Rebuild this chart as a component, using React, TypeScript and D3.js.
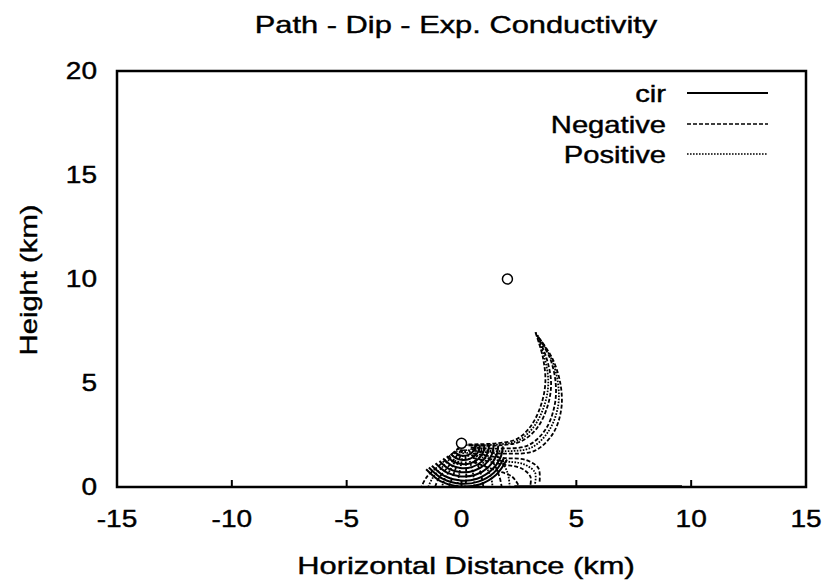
import React from "react";
import * as d3 from "d3";

type Pt = [number, number];

const title = "Path - Dip - Exp. Conductivity";
const xLabel = "Horizontal Distance (km)";
const yLabel = "Height (km)";
const xTicks = [-15, -10, -5, 0, 5, 10, 15];
const yTicks = [0, 5, 10, 15, 20];
const legendLabels = ["cir", "Negative", "Positive"];

// point markers (km)
const markers: Pt[] = [
  [0, 2.1],
  [2, 10],
];

// "cir" solid paths (concentric arcs around the source, ground trace)
const cirPaths: Pt[][] = [
  [[-0.31, 1.71], [-0.15, 1.57], [0.06, 1.5], [0.27, 1.53], [0.45, 1.65], [0.57, 1.83], [0.6, 2.0]],
  [[-0.47, 1.6], [-0.25, 1.39], [0.04, 1.3], [0.34, 1.34], [0.59, 1.51], [0.76, 1.76], [0.8, 2.0]],
  [[-0.64, 1.48], [-0.35, 1.22], [0.02, 1.1], [0.41, 1.15], [0.74, 1.36], [0.95, 1.69], [1.0, 2.0]],
  [[-0.8, 1.37], [-0.45, 1.05], [0.0, 0.9], [0.48, 0.97], [0.88, 1.22], [1.13, 1.62], [1.2, 2.0]],
  [[-0.96, 1.25], [-0.55, 0.87], [-0.01, 0.71], [0.54, 0.78], [1.02, 1.08], [1.32, 1.56], [1.4, 1.98]],
  [[-1.13, 1.14], [-0.65, 0.7], [-0.03, 0.51], [0.61, 0.59], [1.16, 0.94], [1.51, 1.49], [1.6, 1.98]],
  [[-1.29, 1.02], [-0.75, 0.53], [-0.05, 0.31], [0.68, 0.4], [1.3, 0.8], [1.7, 1.42], [1.8, 1.95]],
  [[-1.42, 0.94], [-0.83, 0.4], [-0.06, 0.16], [0.73, 0.26], [1.41, 0.69], [1.84, 1.37]],
  [[-1.54, 0.85], [-0.9, 0.27], [-0.07, 0.03], [0.78, 0.12], [1.51, 0.59], [1.98, 1.32]],
  [[2.3, 0.04], [9.6, 0.04]],
];

// "Negative" dashed paths
const negativePaths: Pt[][] = [
  // bundle rising to the tip
  [[0.3, 2.05], [1.5, 2.1], [2.4, 2.3], [3.0, 2.9], [3.45, 3.9], [3.65, 5.0], [3.55, 6.2], [3.2, 7.5]],
  [[0.3, 2.0], [1.6, 2.0], [2.6, 2.2], [3.3, 2.85], [3.75, 3.9], [3.9, 5.0], [3.7, 6.2], [3.25, 7.4]],
  [[0.4, 1.9], [1.8, 1.85], [2.9, 2.0], [3.65, 2.75], [4.05, 3.9], [4.1, 5.0], [3.85, 6.2], [3.3, 7.3]],
  [[0.5, 1.75], [2.0, 1.6], [3.2, 1.75], [4.0, 2.6], [4.35, 3.8], [4.3, 5.0], [3.95, 6.2], [3.35, 7.2]],
  // loops down to the ground on the right
  [[0.5, 1.6], [1.8, 1.4], [2.8, 1.3], [3.35, 0.9], [3.4, 0.25]],
  [[0.5, 1.4], [1.7, 1.1], [2.6, 0.9], [3.0, 0.5], [3.0, 0.1]],
  [[0.5, 1.2], [1.5, 0.8], [2.2, 0.5], [2.5, 0.05]],
  // fan from the source to the ground
  [[-0.1, 1.9], [-0.9, 1.1], [-1.5, 0.5], [-1.75, 0]],
  [[0.0, 1.8], [-0.6, 0.95], [-1.0, 0.4], [-1.15, 0]],
  [[0.05, 1.8], [-0.25, 0.9], [-0.45, 0.3], [-0.55, 0]],
  [[0.15, 1.8], [0.2, 0.9], [0.2, 0.3], [0.15, 0]],
  [[0.3, 1.8], [0.75, 0.95], [0.9, 0.35], [0.95, 0]],
  [[0.5, 1.9], [1.35, 1.2], [1.65, 0.5], [1.75, 0]],
];

// "Positive" dotted paths
const positivePaths: Pt[][] = [
  [[0.2, 2.02], [1.7, 2.05], [2.5, 2.25], [3.15, 2.9], [3.6, 3.9], [3.78, 5.0], [3.62, 6.2], [3.22, 7.45]],
  [[0.45, 1.82], [1.9, 1.72], [3.05, 1.9], [3.8, 2.7], [4.2, 3.85], [4.2, 5.0], [3.9, 6.2], [3.32, 7.25]],
  [[-0.1, 1.85], [-0.8, 1.0], [-1.25, 0.45], [-1.45, 0]],
  [[0.0, 1.8], [-0.45, 0.9], [-0.75, 0.35], [-0.85, 0]],
  [[0.1, 1.8], [-0.05, 0.9], [-0.15, 0.3], [-0.2, 0]],
  [[0.2, 1.8], [0.45, 0.9], [0.55, 0.3], [0.55, 0]],
  [[0.4, 1.85], [1.05, 1.0], [1.3, 0.4], [1.35, 0]],
  [[0.6, 1.95], [1.55, 1.5], [2.0, 0.7], [2.1, 0]],
  [[0.5, 1.5], [1.75, 1.25], [2.7, 1.1], [3.2, 0.7], [3.2, 0.15]],
];

const W = 828;
const H = 583;
const left = 117;
const right = 806;
const top = 71;
const bottom = 487;
const FONT = "'Liberation Sans', Arial, Helvetica, sans-serif";

export default function App() {
  const x = d3.scaleLinear().domain([-15, 15]).range([left, right]);
  const y = d3.scaleLinear().domain([0, 20]).range([bottom, top]);
  const line = d3
    .line<Pt>()
    .x((d) => x(d[0]))
    .y((d) => y(d[1]))
    .curve(d3.curveCatmullRom.alpha(0.5));

  const txt = (
    s: string,
    tx: number,
    ty: number,
    anchor: "start" | "middle" | "end",
    sx = 1.27,
    rot = 0
  ) => (
    <text
      key={s + tx + ty}
      transform={`translate(${tx},${ty}) rotate(${rot}) scale(${sx},1)`}
      textAnchor={anchor}
      fontFamily={FONT}
      fontSize={23}
      fill="#000"
      stroke="#000"
      strokeWidth={0.4}
    >
      {s}
    </text>
  );

  const legendY = [93, 124, 154];
  const legendDash = ["none", "4,2", "1.6,1.4"];

  return (
    <svg
      width={W}
      height={H}
      viewBox={`0 0 ${W} ${H}`}
      style={{ position: "absolute", left: 0, top: 0, background: "#fff" }}
    >
      <rect x={0} y={0} width={W} height={H} fill="#fff" />
      <defs>
        <clipPath id="plotclip">
          <rect x={left} y={top} width={right - left} height={bottom - top} />
        </clipPath>
      </defs>

      {txt(title, 456, 33, "middle", 1.34)}

      <g clipPath="url(#plotclip)" fill="none" stroke="#000">
        {cirPaths.map((p, i) => (
          <path key={"c" + i} d={line(p) || ""} strokeWidth={2} />
        ))}
        {negativePaths.map((p, i) => (
          <path key={"n" + i} d={line(p) || ""} strokeWidth={1.8} strokeDasharray="4,2" />
        ))}
        {positivePaths.map((p, i) => (
          <path key={"p" + i} d={line(p) || ""} strokeWidth={1.8} strokeDasharray="1.6,1.4" />
        ))}
      </g>

      {markers.map((m, i) => (
        <circle
          key={"m" + i}
          cx={x(m[0])}
          cy={y(m[1])}
          r={5}
          fill="#fff"
          stroke="#000"
          strokeWidth={1.5}
        />
      ))}

      {xTicks.slice(1, -1).map((t) => (
        <line
          key={"xt" + t}
          x1={x(t)}
          x2={x(t)}
          y1={bottom}
          y2={bottom - 7}
          stroke="#000"
          strokeWidth={2}
        />
      ))}

      <rect
        x={left}
        y={top}
        width={right - left}
        height={bottom - top}
        fill="none"
        stroke="#000"
        strokeWidth={2.5}
      />

      {xTicks.map((t) => txt(String(t), x(t), 527, "middle", 1.22))}
      {yTicks.map((t) => txt(String(t), 97, y(t) + 8, "end", 1.22))}
      {txt(xLabel, 466, 574, "middle", 1.34)}
      {txt(yLabel, 37, 280, "middle", 1.27, -90)}

      {legendLabels.map((l, i) => (
        <g key={"lg" + i}>
          {txt(l, 666, legendY[i] + 9, "end", 1.27)}
          <line
            x1={687}
            x2={768}
            y1={legendY[i]}
            y2={legendY[i]}
            stroke="#000"
            strokeWidth={i === 0 ? 2.2 : 1.4}
            strokeDasharray={legendDash[i]}
          />
        </g>
      ))}
    </svg>
  );
}
